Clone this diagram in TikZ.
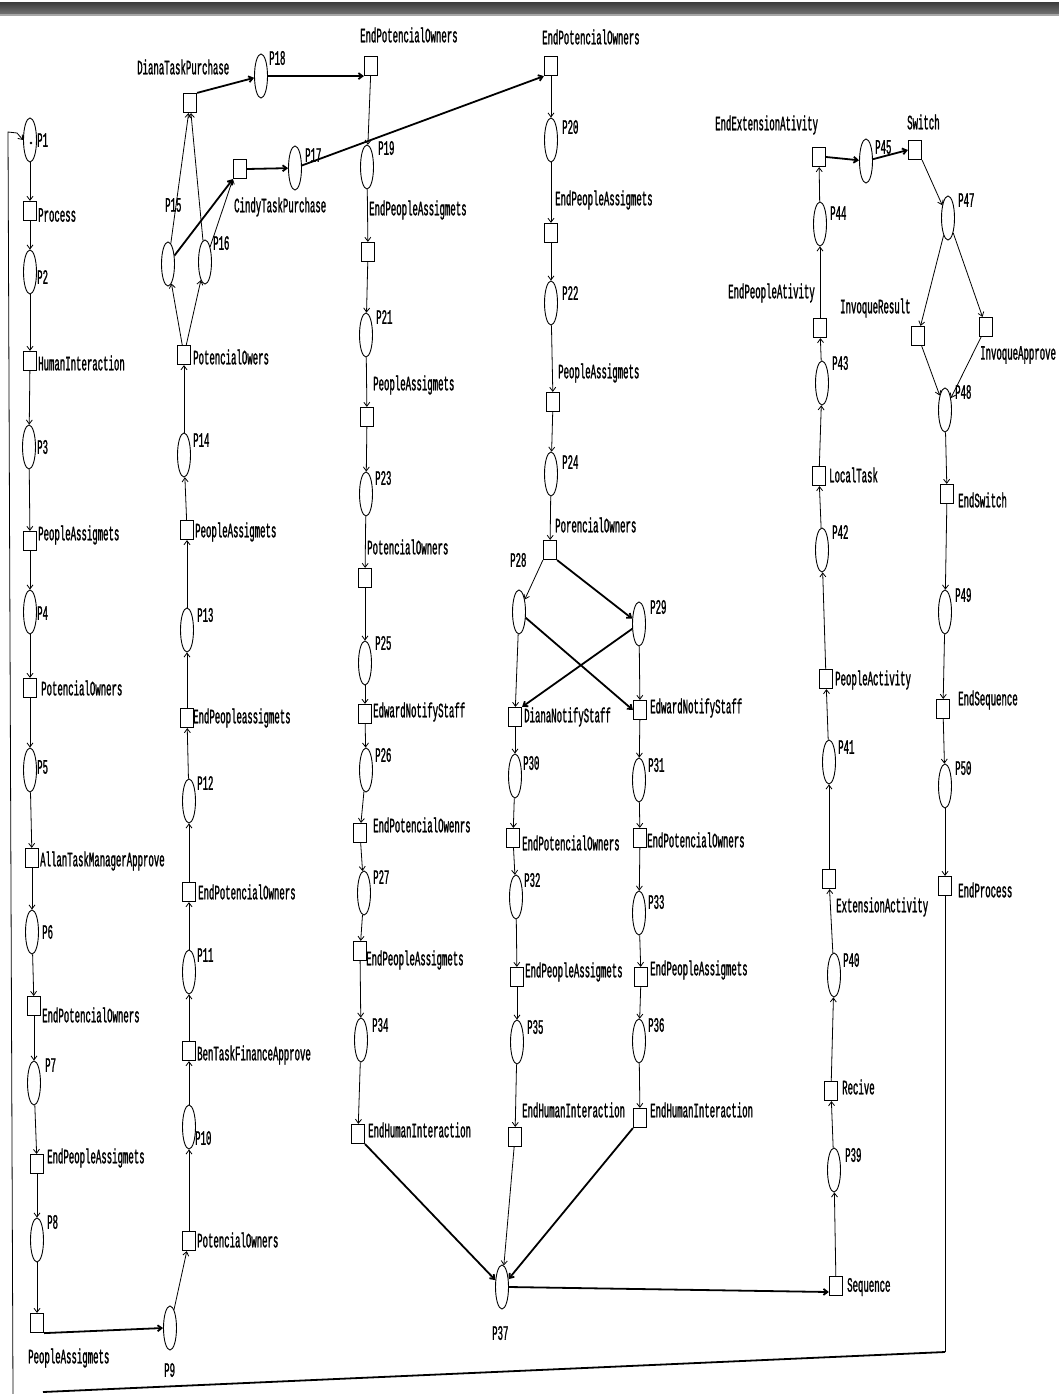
\documentclass[tikz,border=0pt]{standalone}
\usepackage{fontspec}
\newfontfamily\pnfont[FakeStretch=0.44,FakeBold=1.1]{Liberation Mono}
\usetikzlibrary{shapes.geometric,arrows.meta}
\tikzset{
  place/.style={draw,ellipse,minimum width=13pt,minimum height=44pt,inner sep=0pt,line width=0.9pt},
  trans/.style={draw,rectangle,minimum width=13pt,minimum height=19pt,inner sep=0pt,line width=1.2pt},
  lbl/.style={font=\pnfont\fontsize{20.5}{21}\selectfont,inner sep=0pt,anchor=west},
  arc/.style={-{Straight Barb[length=4pt,width=6pt]},line width=0.8pt},
  harc/.style={arc,line width=1.8pt},
  loopline/.style={line width=1.8pt},
}
\newcommand\mkplace[4]{\node[place] (#1) at (#2) {}; \node[lbl] (l#1) at (#3) {#4};}
\newcommand\mktrans[4]{\node[trans] (#1) at (#2) {}; \node[lbl] (l#1) at (#3) {#4};}
\begin{document}
\begin{tikzpicture}[x=1pt,y=-1pt]
\useasboundingbox (0,0) rectangle (1059,1394);
\fill[white] (0,0) rectangle (1059,1394);
\shade[top color=black!75,bottom color=black!55] (0,3) rectangle (1059,14);
\fill[black!35] (0,14) rectangle (1059,16);
% column 1
\mkplace{p1}{30,140}{37,140}{P1}
\mktrans{t1}{30,211}{38,215}{Process}
\mkplace{p2}{30,272}{37,277}{P2}
\mktrans{t2}{30,361}{38,363}{HumanInteraction}
\mkplace{p3}{29,447}{37,447}{P3}
\mktrans{t3}{30,541}{38,535}{PeopleAssigmets}
\mkplace{p4}{30,612}{37,613}{P4}
\mktrans{t4}{30,688}{41,688}{PotencialOwners}
\mkplace{p5}{30,770}{37,767}{P5}
\mktrans{t5}{32,858}{40,861}{AllanTaskManagerApprove}
\mkplace{p6}{32,932}{42,932}{P6}
\mktrans{t6}{34,1006}{42,1015}{EndPotencialOwners}
\mkplace{p7}{34,1083}{45,1065}{P7}
\mktrans{t7}{37,1164}{47,1158}{EndPeopleAssigmets}
\mkplace{p8}{37,1240}{47,1222}{P8}
\mktrans{t8}{37,1323}{28,1358}{PeopleAssigmets}
\mkplace{p9}{170,1328}{164,1370}{P9}
\fill (31,143) circle (1.4pt);
% column 2
\mktrans{t9}{189,1241}{197,1240}{PotencialOwners}
\mkplace{p10}{189,1127}{195,1138}{P10}
\mktrans{t10}{189,1051}{197,1055}{BenTaskFinanceApprove}
\mkplace{p11}{189,972}{197,955}{P11}
\mktrans{t11}{189,892}{198,892}{EndPotencialOwners}
\mkplace{p12}{189,801}{197,783}{P12}
\mktrans{t12}{187,718}{193,718}{EndPeopleassigmets}
\mkplace{p13}{187,630}{197,615}{P13}
\mktrans{t13}{187,530}{195,532}{PeopleAssigmets}
\mkplace{p14}{184,455}{193,440}{P14}
\mktrans{t14}{184,355}{193,357}{PotencialOwers}
\mkplace{p15}{168,264}{165,205}{P15}
\mkplace{p16}{205,262}{213,243}{P16}
\mktrans{tD}{190,103}{137,67}{DianaTaskPurchase}
\mktrans{tC}{240,169}{234,207}{CindyTaskPurchase}
\mkplace{p18}{261,76}{269,58}{P18}
\mkplace{p17}{295,168}{305,155}{P17}
% column 3
\mktrans{tE3}{371,66}{360,35}{EndPotencialOwners}
\mkplace{p19}{367,167}{378,148}{P19}
\mktrans{t19}{368,252}{369,210}{EndPeopleAssigmets}
\mkplace{p21}{366,335}{376,317}{P21}
\mktrans{t21}{367,417}{373,385}{PeopleAssigmets}
\mkplace{p23}{366,494}{375,478}{P23}
\mktrans{t23}{365,578}{367,547}{PotencialOwners}
\mkplace{p25}{365,663}{375,643}{P25}
\mktrans{t25}{365,714}{373,712}{EdwardNotifyStaff}
\mkplace{p26}{366,770}{375,755}{P26}
\mktrans{t26}{360,833}{373,825}{EndPotencialOwenrs}
\mkplace{p27}{364,893}{373,877}{P27}
\mktrans{t27}{360,951}{366,960}{EndPeopleAssigmets}
\mkplace{p34}{361,1040}{372,1025}{P34}
\mktrans{t34}{358,1134}{368,1130}{EndHumanInteraction}
% column 4
\mktrans{tE4}{551,66}{542,37}{EndPotencialOwners}
\mkplace{p20}{551,140}{562,127}{P20}
\mktrans{t20}{551,233}{555,200}{EndPeopleAssigmets}
\mkplace{p22}{551,303}{562,293}{P22}
\mktrans{t22}{553,402}{558,373}{PeopleAssigmets}
\mkplace{p24}{551,474}{562,462}{P24}
\mktrans{t24}{550,550}{555,525}{PorencialOwners}
\mkplace{p28}{519,612}{510,560}{P28}
\mkplace{p29}{639,624}{650,607}{P29}
\mktrans{tDN}{515,717}{524,717}{DianaNotifyStaff}
\mktrans{tEN}{640,710}{650,708}{EdwardNotifyStaff}
\mkplace{p30}{515,776}{523,763}{P30}
\mktrans{t30}{513,838}{522,843}{EndPotencialOwners}
\mkplace{p32}{516,897}{524,880}{P32}
\mktrans{t32}{517,977}{525,972}{EndPeopleAssigmets}
\mkplace{p35}{517,1042}{527,1027}{P35}
\mktrans{t35}{515,1137}{522,1110}{EndHumanInteraction}
\mkplace{p31}{639,780}{648,765}{P31}
\mktrans{t31}{640,838}{647,840}{EndPotencialOwners}
\mkplace{p33}{639,913}{648,902}{P33}
\mktrans{t33}{641,977}{650,970}{EndPeopleAssigmets}
\mkplace{p36}{639,1041}{648,1025}{P36}
\mktrans{t36}{640,1118}{650,1110}{EndHumanInteraction}
\mkplace{p37}{502,1287}{492,1333}{P37}
% column 5
\mktrans{tSeq}{836,1286}{847,1287}{Sequence}
\mkplace{p39}{834,1170}{845,1155}{P39}
\mktrans{tRec}{831,1091}{842,1087}{Recive}
\mkplace{p40}{834,975}{843,960}{P40}
\mktrans{tExt}{829,879}{836,907}{ExtensionActivity}
\mkplace{p41}{829,762}{838,747}{P41}
\mktrans{tPA}{826,679}{835,680}{PeopleActivity}
\mkplace{p42}{822,550}{832,532}{P42}
\mktrans{tLT}{819,476}{829,475}{LocalTask}
\mkplace{p43}{822,383}{832,363}{P43}
\mktrans{tEPA}{820,328}{728,293}{EndPeopleAtivity}
\mkplace{p44}{820,224}{830,213}{P44}
\mktrans{tEEA}{819,157}{715,125}{EndExtensionAtivity}
\mkplace{p45}{866,161}{875,147}{P45}
\mktrans{tSw}{915,150}{907,122}{Switch}
\mkplace{p47}{948,218}{958,200}{P47}
\mktrans{tIR}{918,336}{840,308}{InvoqueResult}
\mktrans{tIA}{986,327}{980,355}{InvoqueApprove}
\mkplace{p48}{945,410}{955,392}{P48}
\mktrans{tES}{947,494}{958,500}{EndSwitch}
\mkplace{p49}{945,612}{955,595}{P49}
\mktrans{tESeq}{943,709}{958,700}{EndSequence}
\mkplace{p50}{945,786}{955,768}{P50}
\mktrans{tEP}{945,886}{958,890}{EndProcess}
% loop coordinates
\coordinate (lb) at (13,1394);
\coordinate (lt) at (8,132);
\coordinate (lt2) at (17,133);
\coordinate (bl1) at (945,1352);
\coordinate (bl2) at (43,1392);
% arcs column 1
\draw[arc] (p1) -- (t1);
\draw[arc] (t1) -- (p2);
\draw[arc] (p2) -- (t2);
\draw[arc] (t2) -- (p3);
\draw[arc] (p3) -- (t3);
\draw[arc] (t3) -- (p4);
\draw[arc] (p4) -- (t4);
\draw[arc] (t4) -- (p5);
\draw[arc] (p5) -- (t5);
\draw[arc] (t5) -- (p6);
\draw[arc] (p6) -- (t6);
\draw[arc] (t6) -- (p7);
\draw[arc] (p7) -- (t7);
\draw[arc] (t7) -- (p8);
\draw[arc] (p8) -- (t8);
\draw[harc] (t8.south east) -- (p9.west);
% column 2
\draw[arc] (p9) -- (t9);
\draw[arc] (t9) -- (p10);
\draw[arc] (p10) -- (t10);
\draw[arc] (t10) -- (p11);
\draw[arc] (p11) -- (t11);
\draw[arc] (t11) -- (p12);
\draw[arc] (p12) -- (t12);
\draw[arc] (t12) -- (p13);
\draw[arc] (p13) -- (t13);
\draw[arc] (t13) -- (p14);
\draw[arc] (p14) -- (t14);
\draw[arc] (t14) -- (p15);
\draw[arc] (t14) -- (p16);
\draw[arc] (p15) -- (tD);
\draw[arc] (p16) -- (tD);
\draw[harc] (p15) -- (tC.south west);
\draw[arc] (p16) -- (tC.south west);
\draw[harc] (tD.north east) -- (p18);
\draw[harc] (tC.east) -- (p17);
\draw[harc] (p18) -- (tE3.south west);
\draw[harc] (p17) -- (tE4.south west);
% column 3
\draw[arc] (tE3) -- (p19);
\draw[arc] (p19) -- (t19);
\draw[arc] (t19) -- (p21);
\draw[arc] (p21) -- (t21);
\draw[arc] (t21) -- (p23);
\draw[arc] (p23) -- (t23);
\draw[arc] (t23) -- (p25);
\draw[arc] (p25) -- (t25);
\draw[arc] (t25) -- (p26);
\draw[arc] (p26) -- (t26);
\draw[arc] (t26) -- (p27);
\draw[arc] (p27) -- (t27);
\draw[arc] (t27) -- (p34);
\draw[arc] (p34) -- (t34);
\draw[harc] (t34.south east) -- (p37);
% column 4
\draw[arc] (tE4) -- (p20);
\draw[arc] (p20) -- (t20);
\draw[arc] (t20) -- (p22);
\draw[arc] (p22) -- (t22);
\draw[arc] (t22) -- (p24);
\draw[arc] (p24) -- (t24);
\draw[arc] (t24.south west) -- (p28);
\draw[harc] (t24.south east) -- (p29);
\draw[arc] (p28) -- (tDN);
\draw[harc] (p28) -- (tEN.west);
\draw[harc] (p29) -- (tDN.north east);
\draw[arc] (p29) -- (tEN);
\draw[arc] (tDN) -- (p30);
\draw[arc] (p30) -- (t30);
\draw[arc] (t30) -- (p32);
\draw[arc] (p32) -- (t32);
\draw[arc] (t32) -- (p35);
\draw[arc] (p35) -- (t35);
\draw[arc] (t35) -- (p37);
\draw[arc] (tEN) -- (p31);
\draw[arc] (p31) -- (t31);
\draw[arc] (t31) -- (p33);
\draw[arc] (p33) -- (t33);
\draw[arc] (t33) -- (p36);
\draw[arc] (p36) -- (t36);
\draw[harc] (t36.south west) -- (p37);
\draw[harc] (p37.east) -- ([yshift=-6pt]tSeq.west);
% column 5
\draw[arc] (tSeq) -- (p39);
\draw[arc] (p39) -- (tRec);
\draw[arc] (tRec) -- (p40);
\draw[arc] (p40) -- (tExt);
\draw[arc] (tExt) -- (p41);
\draw[arc] (p41) -- (tPA);
\draw[arc] (tPA) -- (p42);
\draw[arc] (p42) -- (tLT);
\draw[arc] (tLT) -- (p43);
\draw[arc] (p43) -- (tEPA);
\draw[arc] (tEPA) -- (p44);
\draw[arc] (p44) -- (tEEA);
\draw[harc] (tEEA.east) -- (p45);
\draw[harc] (p45) -- (tSw.west);
\draw[arc] (tSw.south east) -- (p47);
\draw[arc] (p47) -- (tIR);
\draw[arc] (p47) -- (tIA);
\draw[arc] (tIR) -- (p48);
\draw[arc] (tIA) -- (p48);
\draw[arc] (p48) -- (tES);
\draw[arc] (tES) -- (p49);
\draw[arc] (p49) -- (tESeq);
\draw[arc] (tESeq) -- (p50);
\draw[arc] (p50) -- (tEP);
% feedback loop
\draw[line width=1pt] (tEP) -- (bl1);
\draw[loopline] (bl1) -- (bl2);
\draw[arc] (lb) -- (lt) -- (lt2) -- (p1.west);
\end{tikzpicture}
\end{document}
